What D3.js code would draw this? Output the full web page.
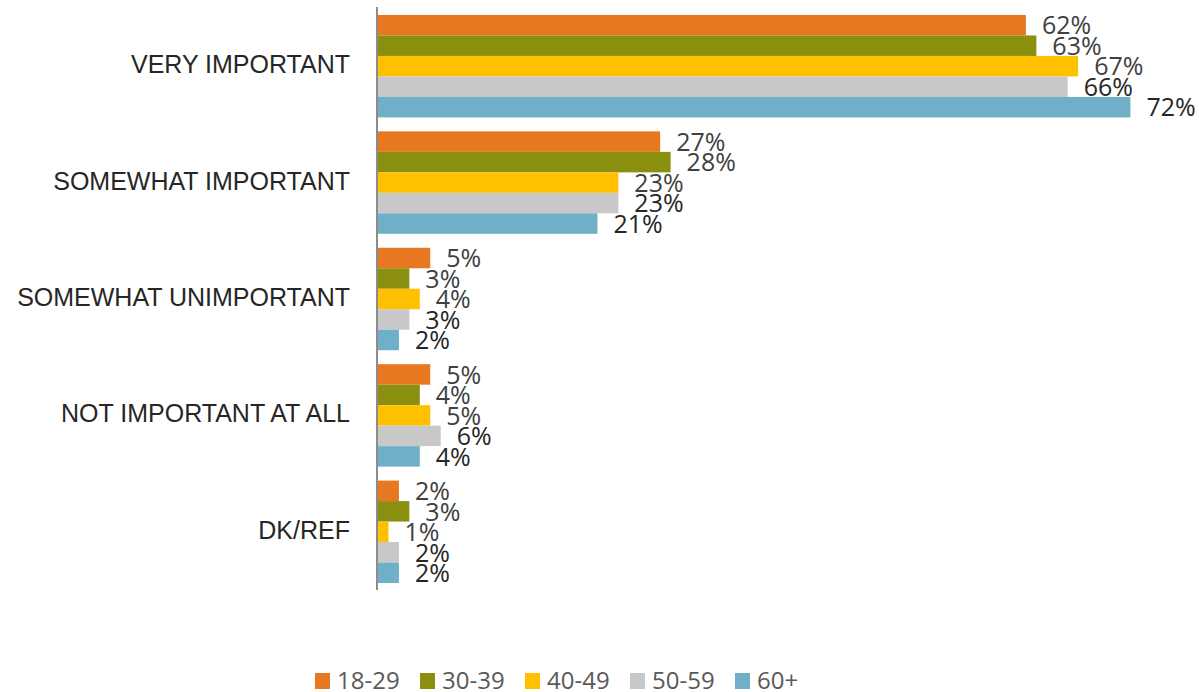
<!doctype html>
<html>
  <head>
    <meta charset="utf-8">
    <script src="https://cdn.jsdelivr.net/npm/d3@7"></script>
    <style>
      body {
        margin: 0;
        background-color: #ffffff;
        font-family: 'Open Sans', sans-serif;
      }
      .cat-label {
        font-size: 25px;
        fill: #262626;
      }
      .val-label {
        font-size: 25px;
      }
      .legend text {
        font-size: 24px;
        fill: #595959;
      }
    </style>
  </head>
  <body>
    <svg class="chart"></svg>

  <script>

    const width = 1199,
        height = 692

    // answer categories, top to bottom
    const categories = ["VERY IMPORTANT", "SOMEWHAT IMPORTANT", "SOMEWHAT UNIMPORTANT", "NOT IMPORTANT AT ALL", "DK/REF"]

    // age groups
    const ageGroups = ["18-29", "30-39", "40-49", "50-59", "60+"]
    const colors = ['#e87722', '#8a8f0f', '#ffc000', '#c8c8c8', '#6fafc7']
    const labelColors = ['#404040', '#404040', '#404040', '#262626', '#262626']

    // percentages per age group, one value for each category
    const age1829 = [62, 27, 5, 5, 2]
    const age3039 = [63, 28, 3, 4, 3]
    const age4049 = [67, 23, 4, 5, 1]
    const age5059 = [66, 23, 3, 6, 2]
    const age60   = [72, 21, 2, 4, 2]

    const series = [age1829, age3039, age4049, age5059, age60]

    const rows = []
    categories.forEach((c, ci) => {
      ageGroups.forEach((g, gi) => {
        rows.push({ category: c, group: g, gi: gi, value: series[gi][ci] })
      })
    })

    const svg = d3.select("svg")
                .attr("width", width)
                .attr("height", height)

    const xScale = d3.scaleLinear()
                   .domain([0, 80])
                   .range([378, 378 + 80 * 10.45])

    const yScale = d3.scaleBand()
                   .domain(categories)
                   .range([8, 590])
                   .paddingInner(0.12)
                   .paddingOuter(0.06)

    const ySub = d3.scaleBand()
                 .domain(ageGroups)
                 .range([0, yScale.bandwidth()])

    const cScale = d3.scaleOrdinal()
                   .domain(ageGroups)
                   .range(colors)

    // bars
    svg.append("g")
        .attr("class", "bars")
      .selectAll("rect")
      .data(rows)
      .enter().append("rect")
        .attr("x", xScale(0))
        .attr("y", (d) => (yScale(d.category) + ySub(d.group)))
        .attr("width", (d) => (xScale(d.value) - xScale(0)))
        .attr("height", ySub.bandwidth())
        .attr("fill", (d) => (cScale(d.group)))

    // value labels
    svg.append("g")
        .attr("class", "values")
      .selectAll("text")
      .data(rows)
      .enter().append("text")
        .attr("class", "val-label")
        .attr("x", (d) => (xScale(d.value) + 16))
        .attr("y", (d) => (yScale(d.category) + ySub(d.group) + ySub.bandwidth() - 1))
        .attr("fill", (d) => (labelColors[d.gi]))
        .text((d) => (d.value + "%"))

    // category axis
    const yAxis = d3.axisLeft(yScale)
                  .tickSize(0)
                  .tickPadding(27)

    const axisG = svg.append("g")
        .attr("class", "y-axis")
        .attr("transform", "translate(377,0)")
        .call(yAxis)

    axisG.select("path").remove()
    axisG.selectAll("text")
        .attr("class", "cat-label")
        .attr("font-family", null)
        .attr("dy", null)
        .attr("y", 7)

    axisG.append("line")
        .attr("x1", 0).attr("x2", 0)
        .attr("y1", 7).attr("y2", 590)
        .attr("stroke", "#8c8c8c")
        .attr("stroke-width", 2)

    // legend
    const legend = svg.append("g")
        .attr("class", "legend")
        .attr("transform", "translate(315,673)")

    const item = legend.selectAll("g")
      .data(ageGroups)
      .enter().append("g")
        .attr("transform", (d, i) => ("translate(" + i * 105 + ",0)"))

    item.append("rect")
        .attr("width", 15)
        .attr("height", 16)
        .attr("fill", (d) => (cScale(d)))

    item.append("text")
        .attr("x", 22)
        .attr("y", 16)
        .text((d) => d)

  </script>
  </body>
</html>
